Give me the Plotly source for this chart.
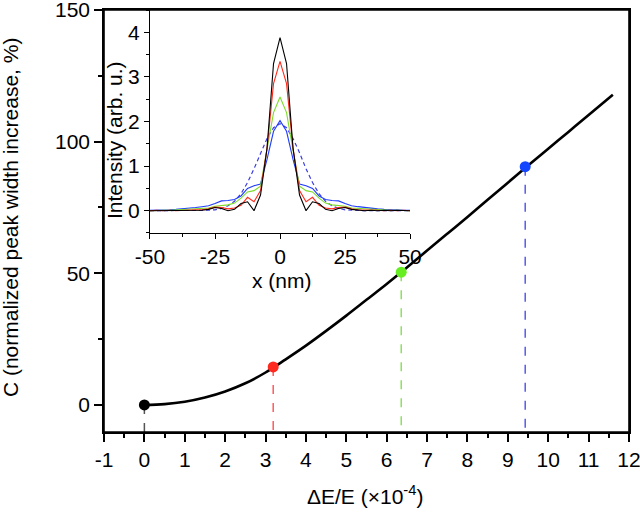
import plotly.graph_objects as go

# ---------------- data ----------------
# main curve: C vs dE/E (x1e-4)
curve_x = [0, 0.5, 1, 1.5, 2, 2.5, 3, 3.5, 4, 4.5, 5, 5.5, 6, 6.5, 7, 7.5, 8, 8.5, 9, 9.5, 10, 10.5, 11, 11.6]
curve_y = [0, 0.3, 1.2, 2.8, 5.1, 8.2, 12.3, 17.3, 22.5, 28.1, 33.9, 39.9, 45.9, 52.2, 58.6, 65.0, 71.4, 77.9, 84.4, 90.9, 97.3, 103.7, 110.1, 117.8]

# highlighted points
pt_x = [0, 3.19, 6.36, 9.43]
pt_y = [0, 14.4, 50.4, 90.5]
pt_colors = ["#000000", "#ff2a1f", "#66ee22", "#1446ff"]
drop_colors = ["#555555", "#ff5a5a", "#8ee060", "#5a5aee"]

# main tick labels
main_x_ticks = [-1, 0, 1, 2, 3, 4, 5, 6, 7, 8, 9, 10, 11, 12]
main_x_labels = ["-1", "0", "1", "2", "3", "4", "5", "6", "7", "8", "9", "10", "11", "12"]
main_y_ticks = [0, 50, 100, 150]
main_y_labels = ["0", "50", "100", "150"]

# inset profiles
inset_x = [-50, -47.5, -45, -42.5, -40, -37.5, -35, -32.5, -30, -27.5, -25, -22.5, -20, -17.5, -15, -12.5,
           -10, -7.5, -5, -2.5, 0, 2.5, 5, 7.5, 10, 12.5, 15, 17.5, 20, 22.5, 25, 27.5, 30, 32.5, 35, 37.5,
           40, 42.5, 45, 47.5, 50]
black_I = [0, 0, 0.01, 0, 0.01, 0, 0.01, 0, 0.01, 0.03, 0.07, 0.05, 0.0, 0.03, 0.16, 0.2, 0.0, 0.35, 1.4, 3.3,
           3.88, 3.3, 1.4, 0.35, 0.0, 0.2, 0.16, 0.03, 0.0, 0.05, 0.07, 0.03, 0.01, 0, 0.01, 0, 0.01, 0, 0.01, 0, 0]
red_I = [0, 0.01, 0, 0.01, 0, 0.01, 0.01, 0.02, 0.02, 0.04, 0.08, 0.07, 0.04, 0.06, 0.12, 0.3, 0.2, 0.45, 1.4, 2.85,
         3.35, 2.85, 1.4, 0.45, 0.2, 0.3, 0.12, 0.06, 0.04, 0.07, 0.08, 0.04, 0.02, 0.02, 0.01, 0.01, 0, 0.01, 0, 0.01, 0]
green_I = [0, 0.01, 0.01, 0.01, 0.02, 0.02, 0.03, 0.04, 0.05, 0.06, 0.1, 0.12, 0.13, 0.17, 0.28, 0.42, 0.45, 0.55, 1.35, 2.2,
           2.55, 2.2, 1.35, 0.55, 0.45, 0.42, 0.28, 0.17, 0.13, 0.12, 0.1, 0.06, 0.05, 0.04, 0.03, 0.02, 0.02, 0.01, 0.01, 0.01, 0]
blue_I = [0.01, 0.01, 0.02, 0.02, 0.03, 0.04, 0.06, 0.07, 0.09, 0.11, 0.16, 0.22, 0.23, 0.25, 0.33, 0.5, 0.56, 0.6, 1.15, 1.78,
          2.02, 1.78, 1.15, 0.6, 0.56, 0.5, 0.33, 0.25, 0.23, 0.22, 0.16, 0.11, 0.09, 0.07, 0.06, 0.04, 0.03, 0.02, 0.02, 0.01, 0.01]
dashed_I = [0, 0, 0, 0, 0, 0, 0, 0, 0, 0.01, 0.02, 0.05, 0.11, 0.21, 0.38, 0.63, 0.94, 1.30, 1.62, 1.86,
            1.95, 1.86, 1.62, 1.30, 0.94, 0.63, 0.38, 0.21, 0.11, 0.05, 0.02, 0.01, 0, 0, 0, 0, 0, 0, 0, 0, 0]

inset_x_ticks = [-50, -25, 0, 25, 50]
inset_x_labels = ["-50", "-25", "0", "25", "50"]
inset_y_ticks = [0, 1, 2, 3, 4]
inset_y_labels = ["0", "1", "2", "3", "4"]

y_main_range = [-10.3, 150]
FONT = "Arial, Liberation Sans, sans-serif"

fig = go.Figure()

# main curve
fig.add_trace(go.Scatter(x=curve_x, y=curve_y, mode="lines",
                         line=dict(color="black", width=2.6, shape="spline"),
                         xaxis="x", yaxis="y", showlegend=False, hoverinfo="skip"))

# drop lines and points
for px, py, dc in zip(pt_x, pt_y, drop_colors):
    fig.add_trace(go.Scatter(x=[px, px], y=[py, y_main_range[0]], mode="lines",
                             line=dict(color=dc, width=1.5, dash="dash"),
                             xaxis="x", yaxis="y", showlegend=False, hoverinfo="skip"))
for px, py, pc in zip(pt_x, pt_y, pt_colors):
    fig.add_trace(go.Scatter(x=[px], y=[py], mode="markers",
                             marker=dict(color=pc, size=11),
                             xaxis="x", yaxis="y", showlegend=False))

# inset profiles
fig.add_trace(go.Scatter(x=inset_x, y=dashed_I, mode="lines",
                         line=dict(color="#3d3ddd", width=1.2, dash="4px,3px"),
                         xaxis="x2", yaxis="y2", showlegend=False))
for series, col in [(blue_I, "#1f3cff"), (green_I, "#7ddc2a"), (red_I, "#ff2a1a"), (black_I, "#000000")]:
    fig.add_trace(go.Scatter(x=inset_x, y=series, mode="lines",
                             line=dict(color=col, width=1.1),
                             xaxis="x2", yaxis="y2", showlegend=False))

axis_common = dict(showgrid=False, zeroline=False, showline=True, linecolor="black", automargin=False,
                   ticks="outside", tickcolor="black", ticklabeloverflow="allow",
                   tickfont=dict(size=21, color="black", family=FONT))

fig.update_layout(
    width=640, height=515,
    margin=dict(l=104, r=11, t=10, b=83),
    paper_bgcolor="white", plot_bgcolor="white",
    font=dict(family=FONT, color="black", size=21),
    xaxis=dict(domain=[0, 1], range=[-1, 12], tickvals=main_x_ticks, ticktext=main_x_labels,
               linewidth=1.6, mirror=True, ticklen=8, tickwidth=1.5,
               minor=dict(dtick=0.5, tick0=0, ticks="outside", ticklen=4, tickwidth=1.5, tickcolor="black"),
               **axis_common),
    yaxis=dict(domain=[0, 1], range=y_main_range, tickvals=main_y_ticks, ticktext=main_y_labels,
               linewidth=1.6, mirror=True, ticklen=8, tickwidth=1.5,
               minor=dict(dtick=25, tick0=0, ticks="outside", ticklen=4, tickwidth=1.5, tickcolor="black"),
               **axis_common),
    xaxis2=dict(domain=[0.0876, 0.583], anchor="y2", range=[-50, 50],
                tickvals=inset_x_ticks, ticktext=inset_x_labels,
                linewidth=1.2, ticklen=5, tickwidth=1.2,
                minor=dict(dtick=12.5, tick0=0, ticks="outside", ticklen=3, tickwidth=1.2, tickcolor="black"),
                **axis_common),
    yaxis2=dict(domain=[0.4716, 1], anchor="x2", range=[-0.5, 4.5],
                tickvals=inset_y_ticks, ticktext=inset_y_labels,
                linewidth=1.2, ticklen=5, tickwidth=1.2,
                minor=dict(dtick=0.5, tick0=0, ticks="outside", ticklen=3, tickwidth=1.2, tickcolor="black"),
                **axis_common),
    shapes=[dict(type="rect", xref="paper", yref="paper", x0=0, x1=1, y0=0, y1=1,
                 line=dict(color="black", width=1.6), fillcolor="rgba(0,0,0,0)", layer="above")],
    annotations=[
        dict(text="C (normalized peak width increase, %)", xref="paper", yref="paper",
             x=-0.179, y=0.507, textangle=-90, showarrow=False, xanchor="center", yanchor="middle",
             font=dict(size=21)),
        dict(text="ΔE/E (×10<sup>-4</sup>)", xref="paper", yref="paper",
             x=0.497, y=-0.149, showarrow=False, xanchor="center", yanchor="middle",
             font=dict(size=21)),
        dict(text="Intensity (arb. u.)", xref="paper", yref="paper",
             x=0.021, y=0.692, textangle=-90, showarrow=False, xanchor="center", yanchor="middle",
             font=dict(size=21)),
        dict(text="x (nm)", xref="paper", yref="paper",
             x=0.339, y=0.360, showarrow=False, xanchor="center", yanchor="middle",
             font=dict(size=21)),
    ],
)

fig.write_html("out.html", config={"displayModeBar": False},
               post_script="document.body.style.margin='0';")
